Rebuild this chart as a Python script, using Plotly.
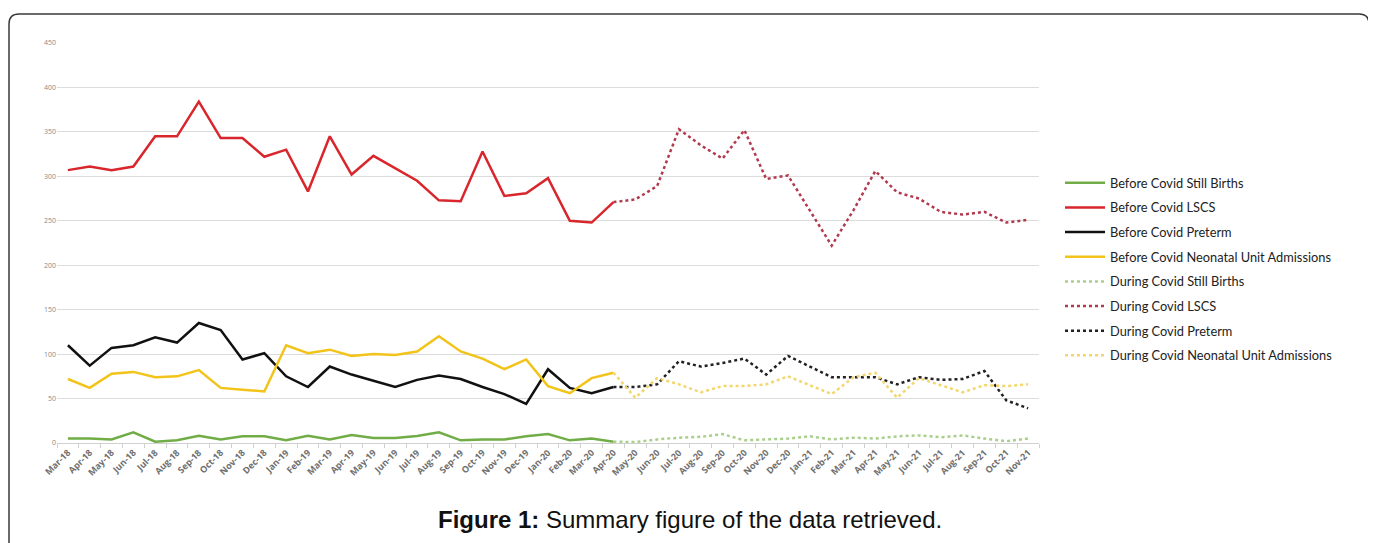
import plotly.graph_objects as go

months = ["Mar-18","Apr-18","May-18","Jun-18","Jul-18","Aug-18","Sep-18","Oct-18","Nov-18","Dec-18",
          "Jan-19","Feb-19","Mar-19","Apr-19","May-19","Jun-19","Jul-19","Aug-19","Sep-19","Oct-19",
          "Nov-19","Dec-19","Jan-20","Feb-20","Mar-20","Apr-20","May-20","Jun-20","Jul-20","Aug-20",
          "Sep-20","Oct-20","Nov-20","Dec-20","Jan-21","Feb-21","Mar-21","Apr-21","May-21","Jun-21",
          "Jul-21","Aug-21","Sep-21","Oct-21","Nov-21"]
before_months = months[:26]   # Mar-18 .. Apr-20
during_months = months[25:]   # Apr-20 .. Nov-21

before_still = [5,5,4,12,1.5,3,8,4,7.5,7.5,3,8,4,9,5.5,5.5,8,12,3,4,4,7.5,10,3,5,1.5]
before_lscs = [307,311,307,311,345,345,384,343,343,322,330,283,345,302,323,309,295,273,272,328,278,281,298,250,248,271]
before_preterm = [110,87,107,110,119,113,135,127,94,101,75,63,86,77,70,63,71,76,72,63,55,44,83,62,56,63]
before_nicu = [72,62,78,80,74,75,82,62,60,58,110,101,105,98,100,99,103,120,103,95,83,94,64,56,73,79]

during_still = [1.5,1,4,6,7,10,3,4,5,7.5,4,6,5,7.5,8.5,6.5,8.5,5,2,5]
during_lscs = [271,274,289,353,335,320,352,297,301,262,222,262,306,282,275,260,257,260,248,251]
during_preterm = [63,63,66,92,86,90,95,77,98,86,74,74,74,66,74,71,72,81,48,39]
during_nicu = [79,51,73,66,57,64,64,66,75,65,55,74,79,51,73,65,57,65,64,66]

fig = go.Figure()

series = [
    ("Before Covid Still Births", before_months, before_still, "#70AD47", "solid"),
    ("Before Covid LSCS", before_months, before_lscs, "#D8262C", "solid"),
    ("Before Covid Preterm", before_months, before_preterm, "#111111", "solid"),
    ("Before Covid Neonatal Unit Admissions", before_months, before_nicu, "#F2C318", "solid"),
    ("During Covid Still Births", during_months, during_still, "#A9CF8C", "dot"),
    ("During Covid LSCS", during_months, during_lscs, "#B23A4E", "dot"),
    ("During Covid Preterm", during_months, during_preterm, "#222222", "dot"),
    ("During Covid Neonatal Unit Admissions", during_months, during_nicu, "#F3D66C", "dot"),
]
for i, (name, xs, ys, col, dash) in enumerate(series):
    fig.add_trace(go.Scatter(x=xs, y=ys, name=name, mode="lines", legendgroup=f"g{i}",
                             line=dict(color=col, width=2.5, dash=dash)))

# page body has an 8px margin; work in screenshot pixels and offset
OFF = 8
FW, FH = 1376 - OFF, 543 - OFF
L, R, T, B = 57, 1039, 43, 443          # plot area in screenshot pixels
W, H = R - L, B - T
def px(x): return (x - L) / W
def py(y): return (B - y) / H

# rounded frame
x0, x1, y0, y1, r = 9, 1369, 14, 600, 10
path = (f"M {px(x0)},{py(y1)} L {px(x0)},{py(y0 + r)} Q {px(x0)},{py(y0)} {px(x0 + r)},{py(y0)} "
        f"L {px(x1 - r)},{py(y0)} Q {px(x1)},{py(y0)} {px(x1)},{py(y0 + r)} L {px(x1)},{py(y1)}")
fig.add_shape(type="path", path=path, xref="paper", yref="paper",
              line=dict(color="#3a3a3a", width=1.5), layer="above")

fig.add_annotation(x=px(690), y=py(520), xref="paper", yref="paper", showarrow=False,
                   text="<b>Figure 1:</b> Summary figure of the data retrieved.",
                   font=dict(family="Liberation Sans, Arial", size=24, color="#111111"),
                   xanchor="center", yanchor="middle")

fig.update_layout(
    width=FW, height=FH,
    margin=dict(l=L - OFF, r=1376 - R, t=T - OFF, b=543 - B, pad=0),
    paper_bgcolor="white", plot_bgcolor="white",
    showlegend=True,
    legend=dict(x=px(1060), y=py(168), xanchor="left", yanchor="top",
                font=dict(family="Lato, Open Sans", size=12.8, color="#222222"),
                tracegroupgap=5, bgcolor="rgba(0,0,0,0)", itemwidth=40),
    xaxis=dict(type="category", categoryorder="array", categoryarray=months,
               tickangle=-45, tickfont=dict(family="Open Sans", size=9, color="#707070", weight="bold"),
               showline=True, linecolor="#d0d0d0", linewidth=1, showgrid=False,
               ticks="outside", tickson="boundaries", ticklen=4, tickcolor="#d0d0d0",
               range=[-0.5, len(months) - 0.5]),
    yaxis=dict(range=[0, 450], tick0=0, dtick=50, showgrid=True, gridcolor="#dcdcdc", gridwidth=1,
               zeroline=False, showline=False,
               tickfont=dict(family="Open Sans", size=7, color="#8a8a8a")),
)

fig.write_html("out.html")
